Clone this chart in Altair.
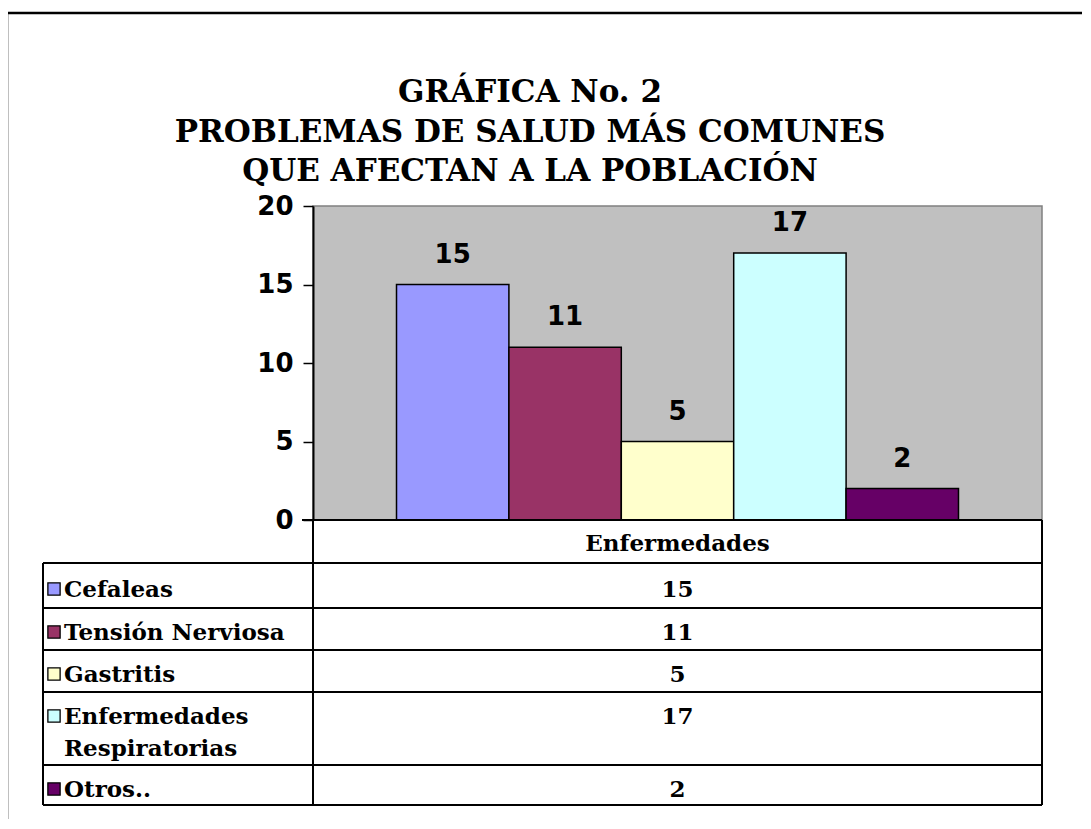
import altair as alt
import pandas as pd

# ---------------- data ----------------
title_lines = ["GRÁFICA No. 2", "PROBLEMAS DE SALUD MÁS COMUNES", "QUE AFECTAN A LA POBLACIÓN"]
categories = ["Cefaleas", "Tensión Nerviosa", "Gastritis", "Enfermedades Respiratorias", "Otros.."]
values = [15, 11, 5, 17, 2]
colors = ["#9999FF", "#993366", "#FFFFCC", "#CCFFFF", "#660066"]
group_label = "Enfermedades"
y_ticks = [0, 5, 10, 15, 20]

# ---------------- layout ----------------
W, H = 729, 314          # plot area
OX, OY = 313, 206        # plot origin on the page


def px(x):
    return x - OX


def py(y):
    return y - OY


SERIF = "DejaVu Serif"
SANS = "DejaVu Sans"
TABLE_FS = 23
NUM_FS = 26

df = pd.DataFrame({"name": categories, "value": values})
color_scale = alt.Scale(domain=categories, range=colors)
one = pd.DataFrame({"k": [0]})

layers = []

# outer frame
layers.append(
    alt.Chart(one).mark_rect(fill="transparent", stroke="black", strokeWidth=2.5).encode(
        x=alt.value(px(7)), x2=alt.value(px(1200)), y=alt.value(py(13)), y2=alt.value(py(1000))
    )
)

# title lines
title_baselines = [102, 142, 181]
for line, bl in zip(title_lines, title_baselines):
    layers.append(
        alt.Chart(pd.DataFrame({"t": [line]})).mark_text(
            font=SERIF, fontWeight="bold", fontSize=31, align="center", baseline="alphabetic", color="black"
        ).encode(x=alt.value(px(530)), y=alt.value(py(bl)), text="t:N")
    )

# bars
xenc = alt.X("name:N", sort=categories, scale=alt.Scale(paddingInner=0, paddingOuter=0.743), axis=None)
bars = alt.Chart(df).mark_bar(stroke="black", strokeWidth=1.5).encode(
    x=xenc,
    y=alt.Y(
        "value:Q",
        scale=alt.Scale(domain=[0, 20], nice=False),
        axis=alt.Axis(
            values=y_ticks, title=None, grid=False,
            labelFont=SANS, labelFontWeight="bold", labelFontSize=NUM_FS, labelColor="black",
            labelPadding=10, tickSize=10, tickColor="black", tickWidth=1.5,
            domainColor="black", domainWidth=2,
        ),
    ),
    color=alt.Color("name:N", scale=color_scale, legend=None),
)
layers.append(bars)

labels = alt.Chart(df).mark_text(
    dy=-22, baseline="alphabetic", font=SANS, fontWeight="bold", fontSize=NUM_FS, color="black"
).encode(x=xenc, y=alt.Y("value:Q"), text="value:Q")
layers.append(labels)


def rule(x1, y1, x2, y2, w=2):
    return alt.Chart(one).mark_rule(color="black", strokeWidth=w).encode(
        x=alt.value(px(x1)), y=alt.value(py(y1)), x2=alt.value(px(x2)), y2=alt.value(py(y2))
    )


# table grid
row_tops = [563, 608, 650, 692, 765]
table_bottom = 805
layers.append(rule(302, 520, 1042, 520))
for t in row_tops:
    layers.append(rule(43, t, 1042, t))
layers.append(rule(43, table_bottom, 1042, table_bottom))
layers.append(rule(43, row_tops[0], 43, table_bottom))
layers.append(rule(313, 520, 313, table_bottom))
layers.append(rule(1042, 520, 1042, table_bottom))

# header
layers.append(
    alt.Chart(pd.DataFrame({"t": [group_label]})).mark_text(
        font=SERIF, fontWeight="bold", fontSize=TABLE_FS, align="center", baseline="alphabetic", color="black"
    ).encode(x=alt.value(W / 2), y=alt.value(py(551)), text="t:N")
)

# rows
row_baselines = [597, 640, 682, 724, 797]
for i, bl in enumerate(row_baselines):
    d = df.iloc[[i]]
    layers.append(
        alt.Chart(d).mark_square(size=150, stroke="black", strokeWidth=1.3, opacity=1).encode(
            x=alt.value(px(54)), y=alt.value(py(bl - 8)),
            color=alt.Color("name:N", scale=color_scale, legend=None),
        )
    )
    wrap = len(categories[i]) * 0.6 * TABLE_FS > 240
    kw = dict(lineBreak=" ", lineHeight=32) if wrap else {}
    layers.append(
        alt.Chart(d).mark_text(
            font=SERIF, fontWeight="bold", fontSize=TABLE_FS, align="left", baseline="alphabetic",
            color="black", **kw
        ).encode(x=alt.value(px(64)), y=alt.value(py(bl)), text="name:N")
    )
    layers.append(
        alt.Chart(d).mark_text(
            font=SERIF, fontWeight="bold", fontSize=TABLE_FS, align="center", baseline="alphabetic",
            color="black"
        ).encode(x=alt.value(W / 2), y=alt.value(py(bl)), text="value:Q")
    )

chart = alt.layer(*layers).properties(
    width=W, height=H, autosize="none",
    padding={"left": 305, "top": 198, "right": 40, "bottom": 299},
    background="white",
).configure_view(fill="#C0C0C0", stroke="#808080", strokeWidth=1.5)

chart.save("out.html", embed_options={"renderer": "svg", "actions": False})
